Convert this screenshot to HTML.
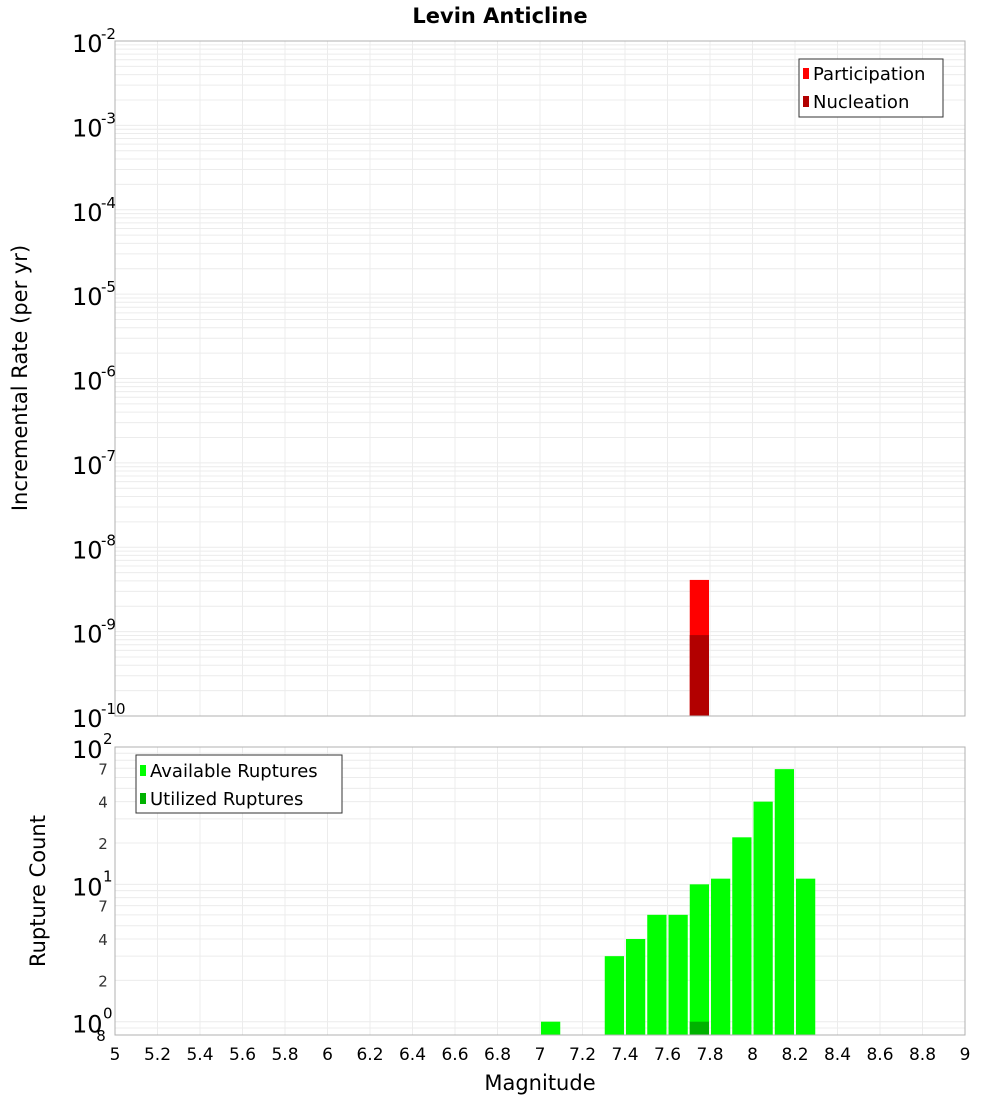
<!DOCTYPE html>
<html><head><meta charset="utf-8"><style>
body{margin:0;background:#fff;font-family:"DejaVu Sans","Liberation Sans",sans-serif}
svg{display:block}
</style></head><body>
<svg id="c" width="1000" height="1100" xmlns="http://www.w3.org/2000/svg"></svg>
<script>
const binStarts=[7.7];
const participation=[4.1e-9];
const nucleation=[9.1e-10];
const countBins=[7.0,7.3,7.4,7.5,7.6,7.7,7.8,7.9,8.0,8.1,8.2];
const available=[1,3,4,6,6,10,11,22,40,69,11];
const utilizedBins=[7.7];
const utilized=[1];
const xTicks=["5","5.2","5.4","5.6","5.8","6","6.2","6.4","6.6","6.8","7","7.2","7.4","7.6","7.8","8","8.2","8.4","8.6","8.8","9"];
const topExps=[-2,-3,-4,-5,-6,-7,-8,-9,-10];

const svg=document.getElementById('c');
const NS='http://www.w3.org/2000/svg';
function mk(t,a,txt){const e=document.createElementNS(NS,t);for(const k in a)e.setAttribute(k,a[k]);if(txt!==undefined)e.textContent=txt;svg.appendChild(e);return e;}
const X0=115,X1=965;
const x=v=>X0+(v-5)/4*(X1-X0);
const T0=41,T1=716;
const yTop=v=>T0+(-2-Math.log10(v))/8*(T1-T0);
const B0=747,B1=1035,bMin=Math.log10(0.8),bMax=2;
const yBot=v=>B0+(bMax-Math.log10(v))/(bMax-bMin)*(B1-B0);

// top grid
for(let e=-10;e<-2;e++)for(let m=1;m<10;m++){const yy=yTop(m*Math.pow(10,e));const g=mk('line',{x1:X0,x2:X1,y1:yy,y2:yy,stroke:'#ececec','stroke-width':1});}
for(let i=0;i<xTicks.length;i++){const xx=x(+xTicks[i]);mk('line',{x1:xx,x2:xx,y1:T0,y2:T1,stroke:'#ececec'});mk('line',{x1:xx,x2:xx,y1:B0,y2:B1,stroke:'#ececec'});}
// bottom grid
for(let e=-1;e<2;e++)for(let m=1;m<10;m++){const v=m*Math.pow(10,e);if(v<0.8)continue;const yy=yBot(v);mk('line',{x1:X0,x2:X1,y1:yy,y2:yy,stroke:'#ececec'});}

// top bars
binStarts.forEach((b,i)=>{
 const r=mk('rect',{x:x(b)+1,y:yTop(participation[i]),width:x(b+0.1)-x(b)-2,height:T1-yTop(participation[i]),fill:'#ff0000'});
 
 const n=mk('rect',{x:x(b)+1,y:yTop(nucleation[i]),width:x(b+0.1)-x(b)-2,height:T1-yTop(nucleation[i]),fill:'#b20000'});
 
});
// bottom bars
countBins.forEach((b,i)=>{
 const r=mk('rect',{x:x(b)+1,y:yBot(available[i]),width:x(b+0.1)-x(b)-2,height:B1-yBot(available[i]),fill:'#00ff00'});
 
});
utilizedBins.forEach((b,i)=>{
 const r=mk('rect',{x:x(b)+1,y:yBot(utilized[i]),width:x(b+0.1)-x(b)-2,height:B1-yBot(utilized[i]),fill:'#00b200'});
 
});

mk('rect',{x:X0,y:T0,width:X1-X0,height:T1-T0,fill:'none',stroke:'#b0b0b0'});
mk('rect',{x:X0,y:B0,width:X1-X0,height:B1-B0,fill:'none',stroke:'#b0b0b0'});

// top y labels
topExps.forEach(e=>{const yy=yTop(Math.pow(10,e));
 const t=mk('text',{x:72,y:yy+11,'font-size':24,fill:'#000'},'10');
 
 mk('text',{x:101,y:yy-2,'font-size':15,fill:'#000'},String(e));});
// bottom y labels
[[100,'2'],[10,'1'],[1,'0']].forEach(([v,s])=>{const yy=yBot(v);mk('text',{x:72,y:yy+11,'font-size':24},'10');mk('text',{x:103,y:yy-3,'font-size':15},s);});
[[70,'7'],[40,'4'],[20,'2'],[7,'7'],[4,'4'],[2,'2']].forEach(([v,s])=>{mk('text',{x:103,y:yBot(v)+6,'font-size':15,'text-anchor':'middle',fill:'#333'},s);});
mk('text',{x:101,y:1041,'font-size':15,'text-anchor':'middle'},'8');

xTicks.forEach(t=>{const e=mk('text',{x:x(+t),y:1060,'font-size':17,'text-anchor':'middle'},t);});

let e;
e=mk('text',{x:500,y:23,'font-size':21,'font-weight':'bold','text-anchor':'middle'},'Levin Anticline');
e=mk('text',{x:540,y:1090,'font-size':21,'text-anchor':'middle'},'Magnitude');
e=mk('text',{x:0,y:0,'font-size':21,'text-anchor':'middle',transform:'translate(27,378) rotate(-90)'},'Incremental Rate (per yr)');
e=mk('text',{x:0,y:0,'font-size':21,'text-anchor':'middle',transform:'translate(45,891) rotate(-90)'},'Rupture Count');

// legends
e=mk('rect',{x:799,y:59,width:144,height:58,fill:'#fff',stroke:'#333'});
mk('rect',{x:803,y:68,width:6,height:11,fill:'#ff0000'});mk('text',{x:813,y:80,'font-size':18},'Participation');
mk('rect',{x:803,y:96,width:6,height:11,fill:'#b20000'});mk('text',{x:813,y:108,'font-size':18},'Nucleation');
e=mk('rect',{x:136,y:755,width:206,height:58,fill:'#fff',stroke:'#333'});
mk('rect',{x:140,y:765,width:6,height:11,fill:'#00ff00'});mk('text',{x:150,y:777,'font-size':18},'Available Ruptures');
mk('rect',{x:140,y:793,width:6,height:11,fill:'#00b200'});mk('text',{x:150,y:805,'font-size':18},'Utilized Ruptures');
</script>
</body></html>
